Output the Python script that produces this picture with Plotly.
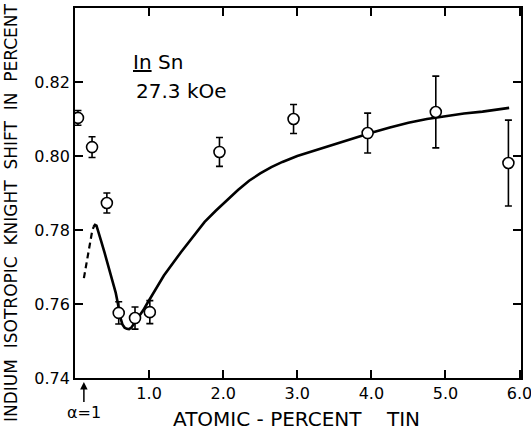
import plotly.graph_objects as go

# Measured data points (atomic percent Sn, Knight shift %, error)
x_pts = [0.04, 0.23, 0.43, 0.59, 0.81, 1.01, 1.95, 2.95, 3.95, 4.87, 5.85]
y_pts = [0.8103, 0.8024, 0.7873, 0.7576, 0.7562, 0.7578, 0.8011, 0.8100, 0.8062, 0.8119, 0.7981]
y_err = [0.0020, 0.0028, 0.0027, 0.0030, 0.0030, 0.0031, 0.0039, 0.0039, 0.0054, 0.0097, 0.0116]

# Theoretical curve: dashed part and solid part
x_dash = [0.12, 0.16, 0.20, 0.23, 0.25]
y_dash = [0.7670, 0.7718, 0.7765, 0.7795, 0.7808]
x_solid = [0.25, 0.27, 0.29, 0.31, 0.35, 0.40, 0.45, 0.50, 0.55, 0.58, 0.61, 0.64, 0.67,
           0.70, 0.73, 0.76, 0.80, 0.86, 0.92, 0.97, 1.06, 1.20, 1.43, 1.60, 1.75, 1.90,
           2.05, 2.20, 2.35, 2.50, 2.65, 2.80, 3.00, 3.25, 3.50, 3.75, 4.00, 4.25, 4.50,
           4.75, 5.00, 5.25, 5.50, 5.86]
y_solid = [0.7808, 0.7814, 0.7812, 0.7800, 0.7772, 0.7738, 0.7703, 0.7668, 0.7630, 0.7600,
           0.7565, 0.7545, 0.7536, 0.7533, 0.7532, 0.7536, 0.7547, 0.7565, 0.7583, 0.7600,
           0.7630, 0.7677, 0.7740, 0.7785, 0.7822, 0.7852, 0.7880, 0.7908, 0.7933, 0.7953,
           0.7970, 0.7984, 0.8000, 0.8016, 0.8031, 0.8047, 0.8063, 0.8077, 0.8090, 0.8100,
           0.8108, 0.8115, 0.8120, 0.8130]

x_tickvals = [1, 2, 3, 4, 5, 6]
x_ticktext = ["1.0", "2.0", "3.0", "4.0", "5.0", "6.0"]
y_tickvals = [0.74, 0.76, 0.78, 0.80, 0.82]
y_ticktext = ["0.74", "0.76", "0.78", "0.80", "0.82"]

FONT = "DejaVu Sans"

fig = go.Figure()
fig.add_trace(go.Scatter(x=x_dash, y=y_dash, mode="lines",
                         line=dict(color="black", width=2.2, dash="6px,4px"),
                         showlegend=False, hoverinfo="skip"))
fig.add_trace(go.Scatter(x=x_solid, y=y_solid, mode="lines",
                         line=dict(color="black", width=2.6),
                         showlegend=False, hoverinfo="skip"))
fig.add_trace(go.Scatter(x=x_pts, y=y_pts, mode="markers",
                         marker=dict(symbol="circle", size=11, color="white",
                                     line=dict(color="black", width=1.6)),
                         error_y=dict(type="data", array=y_err, visible=True,
                                      color="black", thickness=1.6, width=3.5),
                         showlegend=False))

axis_common = dict(showline=True, linecolor="black", linewidth=1.8, mirror="ticks",
                   ticks="inside", ticklen=8, tickwidth=1.5, tickcolor="black",
                   showgrid=False, zeroline=False, ticklabeloverflow="allow",
                   automargin=False,
                   tickfont=dict(family=FONT, size=16, color="black"))

fig.update_xaxes(range=[0, 6.02], tickvals=x_tickvals, ticktext=x_ticktext, **axis_common)
fig.update_yaxes(range=[0.74, 0.84], tickvals=y_tickvals, ticktext=y_ticktext, **axis_common)

NB = "\u00a0"
fig.add_annotation(xref="paper", yref="paper", x=0.496, y=(378 - 419) / 370,
                   text="ATOMIC" + NB + "-" + NB + "PERCENT" + NB * 4 + "TIN",
                   showarrow=False, xanchor="center", yanchor="middle",
                   font=dict(family=FONT, size=20, color="black"))
fig.add_annotation(xref="paper", yref="paper", x=(11 - 75) / 446, y=(378 - 213) / 370,
                   text=("INDIUM" + NB * 2 + "ISOTROPIC" + NB * 2 + "KNIGHT" + NB * 2 +
                         "SHIFT" + NB * 2 + "IN" + NB * 2 + "PERCENT"),
                   textangle=-90, showarrow=False, xanchor="center", yanchor="middle",
                   font=dict(family=FONT, size=17, color="black"))
fig.add_annotation(xref="x", yref="paper", x=0.12, y=(378 - 382) / 370,
                   text="α=1", showarrow=True, ax=0, ay=31, axref="pixel", ayref="pixel",
                   arrowhead=2, arrowsize=1, arrowwidth=1.5, arrowcolor="black",
                   font=dict(family=FONT, size=16, color="black"))
fig.add_annotation(xref="x", yref="y", x=0.757, y=0.8254,
                   text="<u>In</u> Sn", showarrow=False, xanchor="left", yanchor="middle",
                   font=dict(family=FONT, size=20, color="black"))
fig.add_annotation(xref="x", yref="y", x=0.797, y=0.8176,
                   text="27.3 kOe", showarrow=False, xanchor="left", yanchor="middle",
                   font=dict(family=FONT, size=20, color="black"))

fig.update_layout(width=531, height=430, margin=dict(l=75, r=10, t=8, b=52, autoexpand=False),
                  paper_bgcolor="white", plot_bgcolor="white",
                  font=dict(family=FONT, color="black"))

fig.write_html("out.html")
